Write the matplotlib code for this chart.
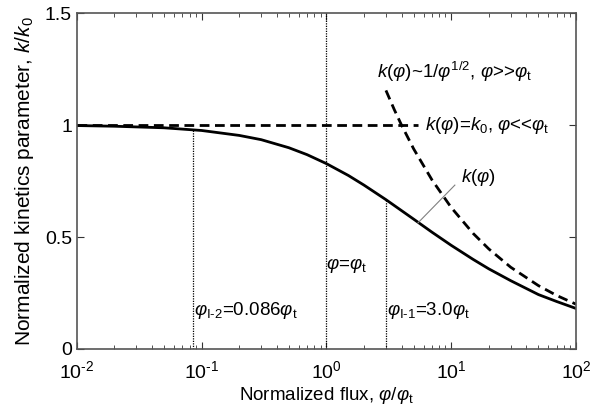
import matplotlib
matplotlib.use("Agg")
import matplotlib.pyplot as plt
from matplotlib.ticker import LogLocator, NullFormatter, FixedLocator

plt.rcParams['font.family'] = ['Liberation Sans', 'DejaVu Sans']
plt.rcParams['mathtext.fontset'] = 'custom'
plt.rcParams['mathtext.rm'] = 'Liberation Sans'
plt.rcParams['mathtext.it'] = 'Liberation Sans:italic'

# solid curve k(phi)
phi = [0.01, 0.02, 0.05, 0.1, 0.2, 0.3, 0.5, 0.7, 1, 1.5, 2, 3, 4, 5, 7,
       10, 15, 20, 30, 50, 70, 100]
k_phi = [0.998, 0.995, 0.988, 0.976, 0.954, 0.935, 0.899, 0.868, 0.828,
         0.775, 0.732, 0.667, 0.618, 0.580, 0.522, 0.463, 0.400, 0.358,
         0.305, 0.243, 0.212, 0.181]

# dashed asymptote for large flux
phi_hi = [3, 3.5, 4, 5, 7, 10, 15, 20, 30, 50, 70, 100]
k_hi = [1.155, 1.069, 1.0, 0.894, 0.756, 0.632, 0.516, 0.447, 0.365,
        0.283, 0.239, 0.200]

# dashed asymptote for small flux
phi_lo = [0.01, 5.4]
k_lo = [1.0, 1.0]

# dotted markers: (position, top of line)
marks_x = [0.086, 1.0, 3.0]
marks_top = [0.98, 1.5, 0.667]

xticks = [1e-2, 1e-1, 1e0, 1e1, 1e2]
xticklabels = [r'$10^{\text{-}2}$', r'$10^{\text{-}1}$', r'$10^{0}$',
               r'$10^{1}$', r'$10^{2}$']
yticks = [0, 0.5, 1, 1.5]
yticklabels = ['0', '0.5', '1', '1.5']

fig = plt.figure(figsize=(6, 4.12), dpi=100)
ax = fig.add_axes([0.128, 0.153, 0.832, 0.815])

ax.plot(phi, k_phi, color='black', lw=2)
ax.plot(phi_hi, k_hi, color='black', lw=2, ls=(0, (3.5, 2)))
ax.plot(phi_lo, k_lo, color='black', lw=2, ls=(0, (3.5, 2)))
for x, top in zip(marks_x, marks_top):
    ax.plot([x, x], [0, top], color='black', lw=0.9, ls=(0, (1, 1)))

# leader line to the k(phi) label
ax.plot([5.4, 10.7], [0.5625, 0.732], color='gray', lw=0.8)

ax.set_xscale('log')
ax.set_xlim(1e-2, 1e2)
ax.set_ylim(0, 1.5)
ax.xaxis.set_major_locator(FixedLocator(xticks))
ax.set_xticklabels(xticklabels)
ax.yaxis.set_major_locator(FixedLocator(yticks))
ax.set_yticklabels(yticklabels)
ax.xaxis.set_minor_locator(LogLocator(base=10, subs=range(2, 10)))
ax.xaxis.set_minor_formatter(NullFormatter())
ax.tick_params(which='both', direction='in', top=True, right=True,
               labelsize=14, color='#333333')
ax.tick_params(axis='x', which='major', pad=8)
ax.tick_params(which='major', length=5)
ax.tick_params(which='minor', length=3)
for s in ax.spines.values():
    s.set_color('#555555')
    s.set_linewidth(1.2)

ax.set_xlabel(r'Normalized flux, $\varphi/\varphi_{\rm t}$', fontsize=13.5, labelpad=2)
ax.set_ylabel(r'Normalized kinetics parameter, $k/k_0$', fontsize=15, labelpad=6)

fs = 13.5
ax.text(2.55, 1.237, r'$k(\varphi)$~$1/\varphi^{1/2}$, $\varphi$>>$\varphi_{\rm t}$',
        fontsize=fs, va='center', ha='left')
ax.text(6.2, 1.0, r'$k(\varphi)$=$k_0$, $\varphi$<<$\varphi_{\rm t}$',
        fontsize=fs, va='center', ha='left')
ax.text(12.0, 0.765, r'$k(\varphi)$', fontsize=fs, va='center', ha='left')
ax.text(1.0, 0.375, r'$\varphi$=$\varphi_{\rm t}$', fontsize=fs, va='center', ha='left')
ax.text(0.087, 0.174, r'$\varphi_{\rm I\text{-}2}$=0.086$\varphi_{\rm t}$',
        fontsize=fs, va='center', ha='left')
ax.text(3.05, 0.174, r'$\varphi_{\rm I\text{-}1}$=3.0$\varphi_{\rm t}$',
        fontsize=fs, va='center', ha='left')

fig.savefig('out.png', dpi=100)
